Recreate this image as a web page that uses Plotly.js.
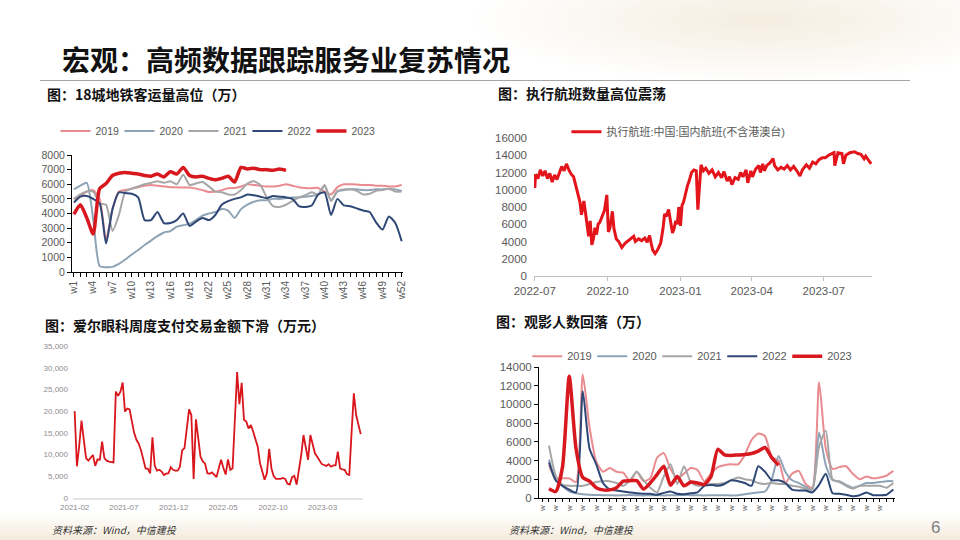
<!DOCTYPE html>
<html lang="zh">
<head>
<meta charset="UTF-8" />
<title>宏观：高频数据跟踪服务业复苏情况</title>
<script src="https://cdn.plot.ly/plotly-3.0.1.min.js"></script>
<style>
  body { margin: 0; }
  #slide {
    position: relative; width: 960px; height: 540px; overflow: hidden;
    background:
      radial-gradient(ellipse 420px 90px at 760px 20px, rgba(236, 222, 198, 0.55), rgba(255,255,255,0) 70%),
      linear-gradient(to top, rgba(241, 229, 208, 0.8), rgba(255,255,255,0) 26px),
      #ffffff;
    font-family: "Noto Sans CJK SC", sans-serif;
  }
  .title { position: absolute; left: 62px; top: 44px; font-size: 28px; line-height: 30px; font-weight: 700; color: #111; }
  .rule { position: absolute; left: 40px; top: 80px; width: 870px; height: 1px; background: #a6a6a6; }
  .sub { position: absolute; font-size: 14px; line-height: 16px; font-weight: 700; color: #111; }
  .src { position: absolute; font-size: 10px; line-height: 12px; font-style: italic; color: #333; }
  .page { position: absolute; left: 931px; top: 518px; font-size: 17px; color: #7f7f7f; font-family: Arial, "Liberation Sans", sans-serif; }
  .chart { position: absolute; }
</style>
</head>
<body>
<div id="slide">
  <div class="title">宏观：高频数据跟踪服务业复苏情况</div>
  <div class="rule"></div>

  <div class="sub" style="left:47px; top:86px;">图：18城地铁客运量高位（万）</div>
  <div class="sub" style="left:498px; top:85px;">图：执行航班数量高位震荡</div>
  <div class="sub" style="left:45px; top:317px;">图：爱尔眼科周度支付交易金额下滑（万元）</div>
  <div class="sub" style="left:496px; top:313px;">图：观影人数回落（万）</div>

  <div id="subwayPlot" class="chart" style="left:20px; top:105px; width:400px; height:205px;"></div>
  <div id="flightPlot" class="chart" style="left:480px; top:105px; width:420px; height:205px;"></div>
  <div id="aierPlot" class="chart" style="left:30px; top:330px; width:345px; height:190px;"></div>
  <div id="moviePlot" class="chart" style="left:480px; top:330px; width:430px; height:190px;"></div>

  <div class="src" style="left:52px; top:524px;">资料来源：Wind，中信建投</div>
  <div class="src" style="left:509px; top:524px;">资料来源：Wind，中信建投</div>
  <div class="page">6</div>
</div>

<script>
  // ---- 18城地铁客运量 (万), weekly ----
  const weeks = ['w1','w2','w3','w4','w5','w6','w7','w8','w9','w10','w11','w12','w13','w14','w15','w16','w17','w18','w19','w20','w21','w22','w23','w24','w25','w26',
                 'w27','w28','w29','w30','w31','w32','w33','w34','w35','w36','w37','w38','w39','w40','w41','w42','w43','w44','w45','w46','w47','w48','w49','w50','w51','w52'];
  const subway2019 = [4950,5200,5500,5600,5000,2200,4300,5500,5600,5700,5800,5900,5950,5900,5850,5800,5800,5770,5780,5700,5600,5470,5500,5600,5730,5750,
                      5850,6000,5950,5900,5850,5850,5900,6000,5900,5800,5750,5730,5750,5500,5300,5800,6000,6000,5980,5950,5950,5900,5900,5850,5850,5950];
  const subway2020 = [5650,5900,6100,3600,400,330,350,550,850,1200,1500,1850,2150,2450,2700,2800,3100,3200,3300,3550,3850,4000,4100,4300,4200,3700,
                      4300,4600,4800,4900,4900,5000,5000,5050,5100,5100,5150,5200,5300,5900,4900,5500,5600,5650,5650,5600,5600,5650,5650,5700,5650,5550];
  const subway2021 = [5000,5300,5500,5500,4700,4600,2800,3900,5500,5700,5850,6000,6100,6200,6100,6200,6000,6650,5950,6050,6150,5850,5500,5450,5300,5300,
                      5600,6050,6200,5950,5100,4500,4450,4600,4850,5100,5250,5450,5300,5950,4850,5550,5650,5650,5550,5300,5350,5550,5600,5700,5500,5500];
  const subway2022 = [4750,5150,5200,5000,4700,1950,4300,5450,5400,5350,5100,3550,3550,4100,3350,3350,3550,4000,3150,3450,3700,3550,3900,4600,4850,5000,
                      5100,5300,5250,5150,5050,5200,5150,5100,5000,4500,4450,4550,5300,5450,3900,5000,4550,4500,4350,4200,4100,3400,2900,3800,3350,2100];
  const subway2023 = [3950,4600,3700,2600,5700,6050,6600,6750,6800,6750,6700,6600,6550,6700,6500,6850,6700,7150,6600,6500,6550,6400,6300,6400,6550,6150,
                      7150,7050,7100,7000,7000,6950,7050,6950];

  // ---- 执行航班:中国:国内航班(不含港澳台) ----
  const flightDates = ['2022-07-01','2022-07-02','2022-07-05','2022-07-08','2022-07-11','2022-07-14','2022-07-17','2022-07-20','2022-07-23','2022-07-26','2022-07-29',
    '2022-08-01','2022-08-04','2022-08-07','2022-08-10','2022-08-13','2022-08-16','2022-08-19','2022-08-22','2022-08-25','2022-08-27','2022-08-29',
    '2022-09-01','2022-09-03','2022-09-05','2022-09-07','2022-09-09','2022-09-11','2022-09-13','2022-09-15','2022-09-17','2022-09-19','2022-09-21','2022-09-23','2022-09-25','2022-09-27','2022-09-30',
    '2022-10-02','2022-10-04','2022-10-07','2022-10-09','2022-10-12','2022-10-15','2022-10-19','2022-10-23','2022-10-27','2022-10-31',
    '2022-11-03','2022-11-05','2022-11-09','2022-11-13','2022-11-17','2022-11-20','2022-11-23','2022-11-25','2022-11-27','2022-11-30',
    '2022-12-03','2022-12-07','2022-12-10','2022-12-12','2022-12-14','2022-12-17','2022-12-19','2022-12-22','2022-12-24','2022-12-26','2022-12-28','2022-12-30',
    '2023-01-01','2023-01-03','2023-01-05','2023-01-08','2023-01-10','2023-01-12','2023-01-15','2023-01-18','2023-01-21','2023-01-23','2023-01-25','2023-01-27','2023-01-30',
    '2023-02-02','2023-02-06','2023-02-10','2023-02-14','2023-02-18','2023-02-22','2023-02-25',
    '2023-03-01','2023-03-04','2023-03-07','2023-03-11','2023-03-15','2023-03-18','2023-03-21','2023-03-25','2023-03-27','2023-03-31',
    '2023-04-02','2023-04-06','2023-04-10','2023-04-12','2023-04-15','2023-04-17','2023-04-20','2023-04-24','2023-04-28','2023-04-30',
    '2023-05-04','2023-05-08','2023-05-12','2023-05-16','2023-05-20','2023-05-24','2023-05-28',
    '2023-06-01','2023-06-04','2023-06-09','2023-06-13','2023-06-17','2023-06-21','2023-06-25','2023-06-29',
    '2023-07-03','2023-07-07','2023-07-11','2023-07-14','2023-07-15','2023-07-19','2023-07-24','2023-07-26','2023-07-29',
    '2023-08-03','2023-08-09','2023-08-13','2023-08-17','2023-08-21','2023-08-23','2023-08-28','2023-08-30'];
  const flightCounts = [10200,11800,11300,12300,11600,12200,11300,11900,10900,11700,11200,
    12000,12700,12200,13000,12300,11800,11500,10300,9200,8600,7100,
    8700,7400,5800,4600,6400,3600,4300,5600,4800,6000,6200,6600,7200,7600,9400,
    5100,5600,7500,5500,4300,4000,3300,3800,4100,4300,
    4600,4000,4300,4100,4400,3900,4700,3800,3000,2600,
    3000,3800,5500,7200,6900,7700,6500,5000,5500,6400,6000,8000,
    5800,8200,8600,10000,10500,11000,12000,12300,12200,7700,10200,12900,12200,
    12500,11900,12300,11500,12000,11400,12100,
    11000,11500,10600,11400,11200,12000,11500,12300,10800,12200,
    11500,12400,12800,12000,13000,12200,12800,13100,13600,12800,
    12300,12600,12400,12800,12300,12700,12200,
    11600,12300,12900,12500,13200,13000,13500,13700,
    13700,14000,14200,14300,12800,14300,14200,13000,14000,
    14300,14400,14200,14100,13600,13900,13200,13000];
  const flightTicks = ['2022-07-01','2022-10-01','2023-01-01','2023-04-01','2023-07-01'];

  // ---- 爱尔眼科周度支付交易金额 (万元), weekly from 2021-02-01 ----
  const aierStart = '2021-02-01';
  const aierAmounts = [20000,7300,12000,17800,13400,9200,8600,9200,9900,7400,
    8900,8800,13000,9200,8600,8400,8300,8200,24500,23500,
    24500,26600,19900,20600,20400,17600,15000,13400,12500,11000,
    8500,6800,6700,5700,14000,7400,6300,6500,6100,5300,
    5600,5700,7100,6500,6300,6300,7200,11000,11500,15700,
    20400,19100,4400,18100,14100,9500,8400,7900,5700,5600,
    5900,5300,4800,6900,8800,6900,5400,8900,6500,6800,
    20000,29000,21600,26500,18000,17600,16000,16800,15300,13800,
    11800,8000,6100,4200,5700,11300,6800,5000,4400,4400,
    4400,4600,4400,3300,3100,4800,5100,3100,6100,9900,
    14500,11800,8800,14500,12600,10300,9500,8600,7800,7600,
    7400,7800,7200,7500,7500,10700,6800,6600,6500,5500,
    5300,15000,24100,19100,16600,14700];
  const aierTicks = ['2021-02-01','2021-07-01','2021-12-01','2022-05-01','2022-10-01','2023-03-01'];

  // ---- 观影人数 (万), weekly ----
  const movie2019 = [3500,2000,2100,2100,1700,13200,7600,3900,2800,3200,2800,2700,1800,2800,1800,2100,4300,4800,3100,2100,2600,3200,3000,1800,2600,3300,
                     3500,3600,3600,4600,6200,6900,6600,4400,4000,1600,2600,2900,1500,1100,12400,5300,3100,3300,3400,2600,2000,2300,2100,2200,2400,2900];
  const movie2020 = [4100,1900,1300,700,500,400,350,320,300,300,280,300,320,300,280,300,300,280,300,300,320,300,300,280,300,300,
                     300,280,300,400,500,600,700,2000,4500,2800,1900,1600,1200,900,7000,3500,1900,1800,1400,1100,1300,1600,1600,1700,1800,1800];
  const movie2021 = [5600,2400,1400,1300,1300,1300,1500,1700,1800,1800,1600,1300,1900,2800,1900,1100,600,2300,3600,1500,3400,1700,1300,1400,1500,1500,
                     1600,1900,2200,2000,1900,1600,1500,1600,1500,1500,1300,1200,1000,900,5500,7200,2000,1700,1300,1000,1300,1300,1300,1300,1100,1600];
  const movie2022 = [3800,1900,1300,900,600,11400,5300,3600,1600,900,800,700,600,500,450,450,350,550,700,450,400,500,600,1300,1400,1300,
                     1500,1900,1800,1600,1300,3400,2800,1900,1900,1600,900,800,800,600,1400,2600,500,450,350,200,300,600,300,300,350,900];
  const movie2023 = [1000,700,3300,13000,5300,2200,1800,1100,870,870,1100,1800,1850,1850,950,1600,2500,3400,1350,2300,1300,1700,1600,1450,2300,5200,
                     4600,4550,4600,4650,4750,5000,5400,4300,3500];

  const years = ['2019','2020','2021','2022','2023'];
  const yearColors = ['#ea8b8f','#8ea3b5','#a6a6a6','#2f4876','#d7191f'];
  const yearWidths = [2, 2, 2, 2, 3.5];

  const NUM_FONT = 'Arial, "Liberation Sans", "Noto Sans CJK SC", sans-serif';
  const GREY = '#595959';
  const config = { displayModeBar: false, staticPlot: true };

  function yearTraces(seriesList) {
    return seriesList.map((ys, k) => ({
      x: ys.map((_, i) => i),
      y: ys,
      type: 'scatter',
      mode: 'lines',
      name: years[k],
      line: { color: yearColors[k], width: yearWidths[k], shape: 'spline', smoothing: 0.6 }
    }));
  }

  // subway chart
  const subwayTickIdx = weeks.map((_, i) => i).filter(i => i % 3 === 0);
  Plotly.newPlot('subwayPlot',
    yearTraces([subway2019, subway2020, subway2021, subway2022, subway2023]),
    {
      width: 400, height: 205,
      margin: { l: 52, r: 17, t: 43, b: 38 },
      paper_bgcolor: 'rgba(0,0,0,0)', plot_bgcolor: 'rgba(0,0,0,0)',
      font: { family: NUM_FONT, color: GREY },
      showlegend: true,
      legend: { orientation: 'h', x: -0.05, y: 1.205, xanchor: 'left', yanchor: 'middle',
                font: { size: 10.5, color: GREY }, entrywidth: 19, bgcolor: 'rgba(0,0,0,0)' },
      xaxis: {
        range: [-0.3, 51.2], showgrid: false, zeroline: false,
        showline: true, linecolor: '#000', linewidth: 1,
        tickmode: 'array', tickvals: subwayTickIdx, ticktext: subwayTickIdx.map(i => weeks[i]),
        tickangle: -90, ticks: 'outside', ticklen: 4, tickcolor: '#000',
        tickfont: { size: 10, color: GREY },
        minor: { tick0: 0, dtick: 1, ticks: 'outside', ticklen: 4, tickcolor: '#000', showgrid: false }
      },
      yaxis: {
        range: [0, 8000], dtick: 1000, tickformat: 'd', showgrid: false, zeroline: false,
        showline: true, linecolor: '#000', linewidth: 1,
        ticks: 'outside', ticklen: 4, tickcolor: '#000',
        tickfont: { size: 10.5, color: GREY }
      }
    }, config);

  // flights chart
  Plotly.newPlot('flightPlot', [{
      x: flightDates, y: flightCounts, type: 'scatter', mode: 'lines',
      name: '执行航班:中国:国内航班(不含港澳台)',
      line: { color: '#e3151b', width: 3 }
    }],
    {
      width: 420, height: 205,
      margin: { l: 54, r: 28, t: 23, b: 34 },
      paper_bgcolor: 'rgba(0,0,0,0)', plot_bgcolor: 'rgba(0,0,0,0)',
      font: { family: NUM_FONT, color: GREY },
      showlegend: true,
      legend: { orientation: 'h', x: 0.096, y: 1.045, xanchor: 'left', yanchor: 'middle',
                font: { size: 11, color: GREY }, bgcolor: 'rgba(0,0,0,0)' },
      xaxis: {
        type: 'date', range: ['2022-06-30', '2023-08-31'], showgrid: false, zeroline: false,
        showline: true, linecolor: '#bfbfbf', linewidth: 1,
        tickmode: 'array', tickvals: flightTicks, tickformat: '%Y-%m',
        ticks: 'outside', ticklen: 4, tickcolor: '#bfbfbf',
        tickfont: { size: 11.5, color: GREY }
      },
      yaxis: {
        range: [0, 16000], dtick: 2000, tickformat: 'd', showgrid: false, zeroline: false, showline: false,
        ticklabelstandoff: 6, tickfont: { size: 11.5, color: GREY }
      }
    }, config);

  // aier chart
  const aierDates = aierAmounts.map((_, i) => {
    const d = new Date(aierStart + 'T00:00:00Z');
    d.setUTCDate(d.getUTCDate() + 7 * i);
    return d.toISOString().slice(0, 10);
  });
  Plotly.newPlot('aierPlot', [{
      x: aierDates, y: aierAmounts, type: 'scatter', mode: 'lines',
      line: { color: '#d9161c', width: 1.8 }
    }],
    {
      width: 345, height: 190,
      margin: { l: 43, r: 12, t: 16, b: 22 },
      paper_bgcolor: 'rgba(0,0,0,0)', plot_bgcolor: 'rgba(0,0,0,0)',
      font: { family: NUM_FONT, color: '#8c8c8c' },
      showlegend: false,
      xaxis: {
        type: 'date', range: ['2021-01-27', '2023-07-03'], showgrid: false, zeroline: false,
        showline: true, linecolor: '#e3e3e3', linewidth: 2,
        tickmode: 'array', tickvals: aierTicks, tickformat: '%Y-%m', ticks: '',
        tickfont: { size: 8, color: '#8c8c8c' }
      },
      yaxis: {
        range: [0, 35000], dtick: 5000, tickformat: ',d', showgrid: false, zeroline: false, showline: false,
        ticklabelstandoff: 4, tickfont: { size: 8, color: '#8c8c8c' }
      }
    }, config);

  // movie chart
  const movieTickVals = weeks.filter((_, i) => i % 2 === 0).map((_, k) => 2 * k - 1);
  Plotly.newPlot('moviePlot',
    yearTraces([movie2019, movie2020, movie2021, movie2022, movie2023]),
    {
      width: 430, height: 190,
      margin: { l: 59, r: 15, t: 28, b: 22 },
      paper_bgcolor: 'rgba(0,0,0,0)', plot_bgcolor: 'rgba(0,0,0,0)',
      font: { family: NUM_FONT, color: GREY },
      showlegend: true,
      legend: { orientation: 'h', x: -0.033, y: 1.083, xanchor: 'left', yanchor: 'middle',
                font: { size: 11, color: GREY }, entrywidth: 20, bgcolor: 'rgba(0,0,0,0)' },
      xaxis: {
        range: [-1.48, 51.25], showgrid: false, zeroline: false,
        showline: true, linecolor: '#000', linewidth: 1,
        tickmode: 'array', tickvals: movieTickVals, ticktext: movieTickVals.map(() => 'w'),
        tickangle: -90, ticks: 'outside', ticklen: 3, tickcolor: '#000',
        tickfont: { size: 8, color: GREY },
        minor: { tick0: 0, dtick: 1, ticks: 'outside', ticklen: 3, tickcolor: '#000', showgrid: false }
      },
      yaxis: {
        range: [0, 14000], dtick: 2000, tickformat: 'd', showgrid: false, zeroline: false,
        showline: true, linecolor: '#000', linewidth: 1,
        ticks: 'outside', ticklen: 4, tickcolor: '#000',
        tickfont: { size: 11.5, color: GREY }
      }
    }, config);
</script>
</body>
</html>
